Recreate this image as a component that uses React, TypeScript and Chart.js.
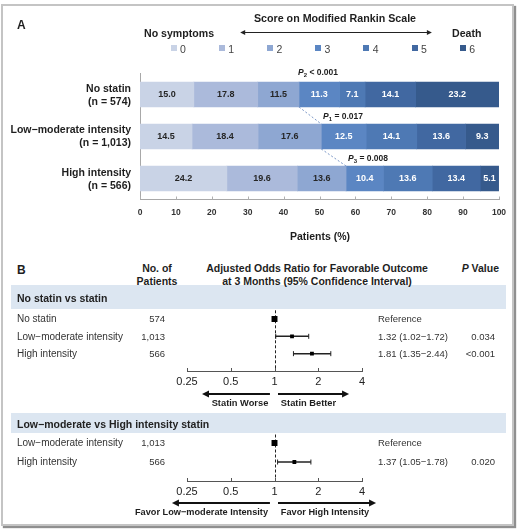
import React, { useEffect, useRef } from "react";
import { Chart, registerables } from "chart.js";

Chart.register(...registerables);

const FONT = 'Arial, "Liberation Sans", Helvetica, sans-serif';
Chart.defaults.font.family = FONT;

// ---------- Panel A data ----------
const groupNames = ["No statin", "Low−moderate intensity", "High intensity"];
const groupCounts = ["(n = 574)", "(n = 1,013)", "(n = 566)"];
const mrsScores = ["0", "1", "2", "3", "4", "5", "6"];
const mrs0 = [15.0, 14.5, 24.2];
const mrs1 = [17.8, 18.4, 19.6];
const mrs2 = [11.5, 17.6, 13.6];
const mrs3 = [11.3, 12.5, 10.4];
const mrs4 = [7.1, 14.1, 13.6];
const mrs5 = [14.1, 13.6, 13.4];
const mrs6 = [23.2, 9.3, 5.1];
const mrsSeries = [mrs0, mrs1, mrs2, mrs3, mrs4, mrs5, mrs6];
const pValuesA = ["0.017", "0.008"];

// ---------- Panel B data ----------
const cmp1Rows = ["No statin", "Low−moderate intensity", "High intensity"];
const cmp1N = ["574", "1,013", "566"];
const cmp1OR = [1, 1.32, 1.81];
const cmp1Lo: (number | null)[] = [null, 1.02, 1.35];
const cmp1Hi: (number | null)[] = [null, 1.72, 2.44];
const cmp1P = ["", "0.034", "<0.001"];

const cmp2Rows = ["Low−moderate intensity", "High intensity"];
const cmp2N = ["1,013", "566"];
const cmp2OR = [1, 1.37];
const cmp2Lo: (number | null)[] = [null, 1.05];
const cmp2Hi: (number | null)[] = [null, 1.78];
const cmp2P = ["", "0.020"];

const orTicks = [0.25, 0.5, 1, 2, 4];

// ---------- styles ----------
const scoreColors = ["#c9d3e6", "#abbadb", "#8ea7d2", "#5b86c3", "#4e79b4", "#4168a1", "#365a8c"];
const BAND = "#dce6f1";

function Txt(props: any) {
  const { x, y, children, align = "left", size = 10, bold = false, color = "#1e1e1e", italic = false } = props;
  const transform =
    align === "left" ? "translate(0,-50%)" : align === "center" ? "translate(-50%,-50%)" : "translate(-100%,-50%)";
  return (
    <div
      style={{
        position: "absolute",
        left: x,
        top: y,
        transform,
        whiteSpace: "nowrap",
        fontFamily: FONT,
        fontSize: size,
        fontWeight: bold ? 700 : 400,
        fontStyle: italic ? "italic" : "normal",
        color,
        lineHeight: 1,
      }}
    >
      {children}
    </div>
  );
}

function drawArrowHead(ctx: CanvasRenderingContext2D, x: number, y: number, dir: number, len: number, half: number) {
  ctx.beginPath();
  ctx.moveTo(x, y);
  ctx.lineTo(x - dir * len, y - half);
  ctx.lineTo(x - dir * len, y + half);
  ctx.closePath();
  ctx.fill();
}

function StackedChart() {
  const ref = useRef<HTMLCanvasElement>(null);
  useEffect(() => {
    const plugin = {
      id: "segLabels",
      afterDatasetsDraw(chart: any) {
        const ctx = chart.ctx as CanvasRenderingContext2D;
        ctx.save();
        ctx.font = `bold 9px ${FONT}`;
        ctx.textAlign = "center";
        ctx.textBaseline = "middle";
        chart.data.datasets.forEach((ds: any, di: number) => {
          const meta = chart.getDatasetMeta(di);
          meta.data.forEach((el: any, i: number) => {
            const c = el.getCenterPoint();
            ctx.fillStyle = di < 3 ? "#262626" : "#ffffff";
            ctx.fillText(Number(ds.data[i]).toFixed(1), c.x, c.y + 0.5);
          });
        });
        // dashed connectors at the 0-2 boundary
        const m = chart.getDatasetMeta(2);
        ctx.strokeStyle = "#7b97c6";
        ctx.lineWidth = 1;
        ctx.setLineDash([2, 2]);
        for (let i = 0; i < m.data.length - 1; i++) {
          const a = m.data[i];
          const b = m.data[i + 1];
          ctx.beginPath();
          ctx.moveTo(a.x, a.y + a.height / 2);
          ctx.lineTo(b.x, b.y - b.height / 2);
          ctx.stroke();
        }
        ctx.setLineDash([]);
        // small tick marks above axis
        const xs = chart.scales.x;
        ctx.strokeStyle = "#b0b0b0";
        xs.ticks.forEach((t: any) => {
          const px = Math.round(xs.getPixelForValue(t.value)) + 0.5;
          ctx.beginPath();
          ctx.moveTo(px, xs.top);
          ctx.lineTo(px, xs.top - 3);
          ctx.stroke();
        });
        // header arrow (No symptoms <-> Death)
        const y = 32.5;
        const x1 = xs.getPixelForValue(27.9);
        const x2 = xs.getPixelForValue(81.3);
        ctx.strokeStyle = "#222";
        ctx.fillStyle = "#222";
        ctx.lineWidth = 1;
        ctx.beginPath();
        ctx.moveTo(x1 + 3, y);
        ctx.lineTo(x2 - 3, y);
        ctx.stroke();
        drawArrowHead(ctx, x1, y, -1, 5, 2.5);
        drawArrowHead(ctx, x2, y, 1, 5, 2.5);
        ctx.restore();
      },
    };
    const chart = new Chart(ref.current as HTMLCanvasElement, {
      type: "bar",
      data: {
        labels: groupNames,
        datasets: mrsScores.map((s, i) => ({
          label: s,
          data: mrsSeries[i],
          backgroundColor: scoreColors[i],
          borderWidth: 0,
          barThickness: 25,
        })),
      },
      options: {
        indexAxis: "y",
        responsive: false,
        animation: false,
        layout: { padding: { top: 73.5, right: 20, left: 0, bottom: 0 } },
        plugins: { legend: { display: false }, tooltip: { enabled: false } },
        scales: {
          x: {
            stacked: true,
            min: 0,
            max: 100,
            ticks: {
              stepSize: 10,
              autoSkip: false,
              maxRotation: 0,
              padding: 8,
              color: "#333",
              font: { size: 8.5, weight: "bold" },
            },
            grid: { display: false, drawTicks: false },
            border: { display: true, color: "#a8a8a8" },
            afterFit: (s: any) => {
              s.height = 50.5;
            },
          },
          y: {
            stacked: true,
            ticks: { display: false },
            grid: { display: false, drawTicks: false },
            border: { display: true, color: "#a8a8a8" },
            afterFit: (s: any) => {
              s.width = 140;
            },
          },
        },
      } as any,
      plugins: [plugin],
    });
    return () => chart.destroy();
  }, []);
  return (
    <canvas
      ref={ref}
      width={519}
      height={250}
      style={{ position: "absolute", left: 0, top: 0, width: 519, height: 250 }}
    />
  );
}

function ForestChart(props: any) {
  const { or, lo, hi, top, height, padTop, yMin, yMax, axisH, arrowL, arrowR, arrowDy } = props;
  const ref = useRef<HTMLCanvasElement>(null);
  useEffect(() => {
    const plugin = {
      id: "forest",
      beforeDatasetsDraw(chart: any) {
        const ctx = chart.ctx as CanvasRenderingContext2D;
        const xs = chart.scales.x;
        const ys = chart.scales.y;
        const area = chart.chartArea;
        ctx.save();
        // null line
        const x1 = Math.round(xs.getPixelForValue(1)) + 0.5;
        ctx.strokeStyle = "#222";
        ctx.lineWidth = 1;
        ctx.setLineDash([3, 2]);
        ctx.beginPath();
        ctx.moveTo(x1, area.top);
        ctx.lineTo(x1, area.bottom);
        ctx.stroke();
        ctx.setLineDash([]);
        // CIs
        ctx.lineWidth = 1.5;
        or.forEach((_: number, i: number) => {
          if (lo[i] == null || hi[i] == null) return;
          const y = ys.getPixelForValue(i);
          const a = xs.getPixelForValue(lo[i]);
          const b = xs.getPixelForValue(hi[i]);
          ctx.beginPath();
          ctx.moveTo(a, y);
          ctx.lineTo(b, y);
          ctx.stroke();
          ctx.lineWidth = 1;
          ctx.beginPath();
          ctx.moveTo(a, y - 2.5);
          ctx.lineTo(a, y + 2.5);
          ctx.moveTo(b, y - 2.5);
          ctx.lineTo(b, y + 2.5);
          ctx.stroke();
          ctx.lineWidth = 1.5;
        });
        ctx.restore();
      },
      afterDraw(chart: any) {
        const ctx = chart.ctx as CanvasRenderingContext2D;
        const xs = chart.scales.x;
        const area = chart.chartArea;
        ctx.save();
        ctx.strokeStyle = "#555";
        ctx.lineWidth = 1;
        xs.ticks.forEach((t: any) => {
          const px = Math.round(xs.getPixelForValue(t.value)) + 0.5;
          ctx.beginPath();
          ctx.moveTo(px, area.bottom);
          ctx.lineTo(px, area.bottom - 3);
          ctx.stroke();
        });
        // direction arrows
        const y = area.bottom + arrowDy;
        ctx.strokeStyle = "#111";
        ctx.fillStyle = "#111";
        ctx.lineWidth = 2;
        const l0 = xs.getPixelForValue(0.93);
        const l1 = xs.getPixelForValue(arrowL);
        const r0 = xs.getPixelForValue(1.057);
        const r1 = xs.getPixelForValue(arrowR);
        ctx.beginPath();
        ctx.moveTo(l0, y);
        ctx.lineTo(l1 + 5, y);
        ctx.moveTo(r0, y);
        ctx.lineTo(r1 - 5, y);
        ctx.stroke();
        drawArrowHead(ctx, l1, y, -1, 7, 3.5);
        drawArrowHead(ctx, r1, y, 1, 7, 3.5);
        ctx.restore();
      },
    };
    const chart = new Chart(ref.current as HTMLCanvasElement, {
      type: "scatter",
      data: {
        datasets: [
          {
            data: or.map((v: number, i: number) => ({ x: v, y: i })),
            pointStyle: "rect",
            pointRadius: or.map((_: number, i: number) => (lo[i] == null ? 4.2 : 2.7)),
            backgroundColor: "#000",
            borderColor: "#000",
            borderWidth: 0,
          },
        ],
      },
      options: {
        responsive: false,
        animation: false,
        layout: { padding: { top: padTop, left: 187, right: 157, bottom: 0 } },
        plugins: { legend: { display: false }, tooltip: { enabled: false } },
        scales: {
          x: {
            type: "logarithmic",
            min: 0.25,
            max: 4,
            afterBuildTicks: (s: any) => {
              s.ticks = orTicks.map((v) => ({ value: v }));
            },
            ticks: {
              autoSkip: false,
              maxRotation: 0,
              padding: 4,
              color: "#222",
              font: { size: 11 },
              callback: (v: any) => String(v),
            },
            grid: { display: false, drawTicks: false },
            border: { display: true, color: "#555" },
            afterFit: (s: any) => {
              s.height = axisH;
            },
          },
          y: {
            type: "linear",
            min: yMin,
            max: yMax,
            reverse: true,
            display: false,
          },
        },
      } as any,
      plugins: [plugin],
    });
    return () => chart.destroy();
  }, []);
  return (
    <canvas
      ref={ref}
      width={519}
      height={height}
      style={{ position: "absolute", left: 0, top, width: 519, height }}
    />
  );
}

function orText(i: number, or: number[], lo: (number | null)[], hi: (number | null)[]) {
  if (lo[i] == null || hi[i] == null) return "Reference";
  return `${or[i].toFixed(2)} (${(lo[i] as number).toFixed(2)}−${(hi[i] as number).toFixed(2)})`;
}

export default function App() {
  const barCenters = [94.5, 135.5, 178.5];
  const rows1 = [319, 336.5, 354];
  const rows2 = [443, 462];
  return (
    <div
      style={{
        position: "absolute",
        left: 0,
        top: 0,
        width: 519,
        height: 530,
        background: "#fff",
        overflow: "hidden",
        fontFamily: FONT,
      }}
    >
      <div
        style={{
          position: "absolute",
          left: 1,
          top: 4,
          width: 513,
          height: 522,
          boxSizing: "border-box",
          border: "2px solid #c4c4c4",
          boxShadow: "2px 2px 1px #8f8f8f",
        }}
      />
      <div style={{ position: "absolute", left: 11, top: 285, width: 495, height: 24, background: BAND }} />
      <div style={{ position: "absolute", left: 11, top: 413, width: 495, height: 20, background: BAND }} />

      <StackedChart />
      <ForestChart
        or={cmp1OR}
        lo={cmp1Lo}
        hi={cmp1Hi}
        top={300}
        height={120}
        padTop={10.3}
        yMin={-0.5}
        yMax={3}
        axisH={49}
        arrowL={0.317}
        arrowR={3.26}
        arrowDy={23}
      />
      <ForestChart
        or={cmp2OR}
        lo={cmp2Lo}
        hi={cmp2Hi}
        top={425}
        height={100}
        padTop={9.5}
        yMin={-0.45}
        yMax={2}
        axisH={44}
        arrowL={0.197}
        arrowR={5.0}
        arrowDy={22}
      />

      {/* Panel A header */}
      <Txt x={17} y={25} size={12} bold>A</Txt>
      <Txt x={335} y={18} size={10.7} bold align="center">Score on Modified Rankin Scale</Txt>
      <Txt x={144} y={32.5} size={10.6} bold>No symptoms</Txt>
      <Txt x={452} y={32.5} size={10.6} bold>Death</Txt>
      {mrsScores.map((s, i) => (
        <React.Fragment key={s}>
          <div
            style={{
              position: "absolute",
              left: 170.5 + i * 48.2,
              top: 45,
              width: 6,
              height: 6,
              background: scoreColors[i],
            }}
          />
          <Txt x={180 + i * 48.2} y={48.5} size={10.5} color="#444">{s}</Txt>
        </React.Fragment>
      ))}
      {groupNames.map((g, i) => (
        <React.Fragment key={g}>
          <Txt x={131} y={barCenters[i] - 7} size={10.5} bold align="right">{g}</Txt>
          <Txt x={131} y={barCenters[i] + 6.5} size={10.5} bold align="right">{groupCounts[i]}</Txt>
        </React.Fragment>
      ))}
      <Txt x={298} y={72} size={8.5} bold>
        <i>P</i>
        <span style={{ fontSize: 6, position: "relative", top: 2 }}>2</span> &lt; 0.001
      </Txt>
      <Txt x={323} y={116} size={8.5} bold>
        <i>P</i>
        <span style={{ fontSize: 6, position: "relative", top: 2 }}>1</span> = {pValuesA[0]}
      </Txt>
      <Txt x={348} y={158} size={8.5} bold>
        <i>P</i>
        <span style={{ fontSize: 6, position: "relative", top: 2 }}>3</span> = {pValuesA[1]}
      </Txt>
      <Txt x={320} y={236} size={10.5} bold align="center">Patients (%)</Txt>

      {/* Panel B header */}
      <Txt x={17} y={270} size={12} bold>B</Txt>
      <Txt x={157} y={268} size={10.5} bold align="center">No. of</Txt>
      <Txt x={157} y={280.5} size={10.5} bold align="center">Patients</Txt>
      <Txt x={317} y={268} size={10.5} bold align="center">Adjusted Odds Ratio for Favorable Outcome</Txt>
      <Txt x={317} y={280.5} size={10.5} bold align="center">at 3 Months (95% Confidence Interval)</Txt>
      <Txt x={499} y={268} size={10.5} bold align="right">
        <i>P</i> Value
      </Txt>

      <Txt x={17} y={297.5} size={10.5} bold color="#222">No statin vs statin</Txt>
      {cmp1Rows.map((r, i) => (
        <React.Fragment key={"a" + i}>
          <Txt x={17} y={rows1[i]} size={10} color="#333">{r}</Txt>
          <Txt x={165} y={rows1[i]} size={9.5} color="#333" align="right">{cmp1N[i]}</Txt>
          <Txt x={378} y={rows1[i]} size={9.5} color="#333">{orText(i, cmp1OR, cmp1Lo, cmp1Hi)}</Txt>
          <Txt x={495} y={rows1[i]} size={9.5} color="#333" align="right">{cmp1P[i]}</Txt>
        </React.Fragment>
      ))}
      <Txt x={240} y={404} size={9.3} bold align="center">Statin Worse</Txt>
      <Txt x={308.5} y={404} size={9.3} bold align="center">Statin Better</Txt>

      <Txt x={17} y={423.5} size={10.5} bold color="#222">Low−moderate vs High intensity statin</Txt>
      {cmp2Rows.map((r, i) => (
        <React.Fragment key={"b" + i}>
          <Txt x={17} y={rows2[i]} size={10} color="#333">{r}</Txt>
          <Txt x={165} y={rows2[i]} size={9.5} color="#333" align="right">{cmp2N[i]}</Txt>
          <Txt x={378} y={rows2[i]} size={9.5} color="#333">{orText(i, cmp2OR, cmp2Lo, cmp2Hi)}</Txt>
          <Txt x={495} y={rows2[i]} size={9.5} color="#333" align="right">{cmp2P[i]}</Txt>
        </React.Fragment>
      ))}
      <Txt x={201.5} y={513} size={9.2} bold align="center">Favor Low−moderate Intensity</Txt>
      <Txt x={325} y={513} size={9.2} bold align="center">Favor High Intensity</Txt>
    </div>
  );
}
